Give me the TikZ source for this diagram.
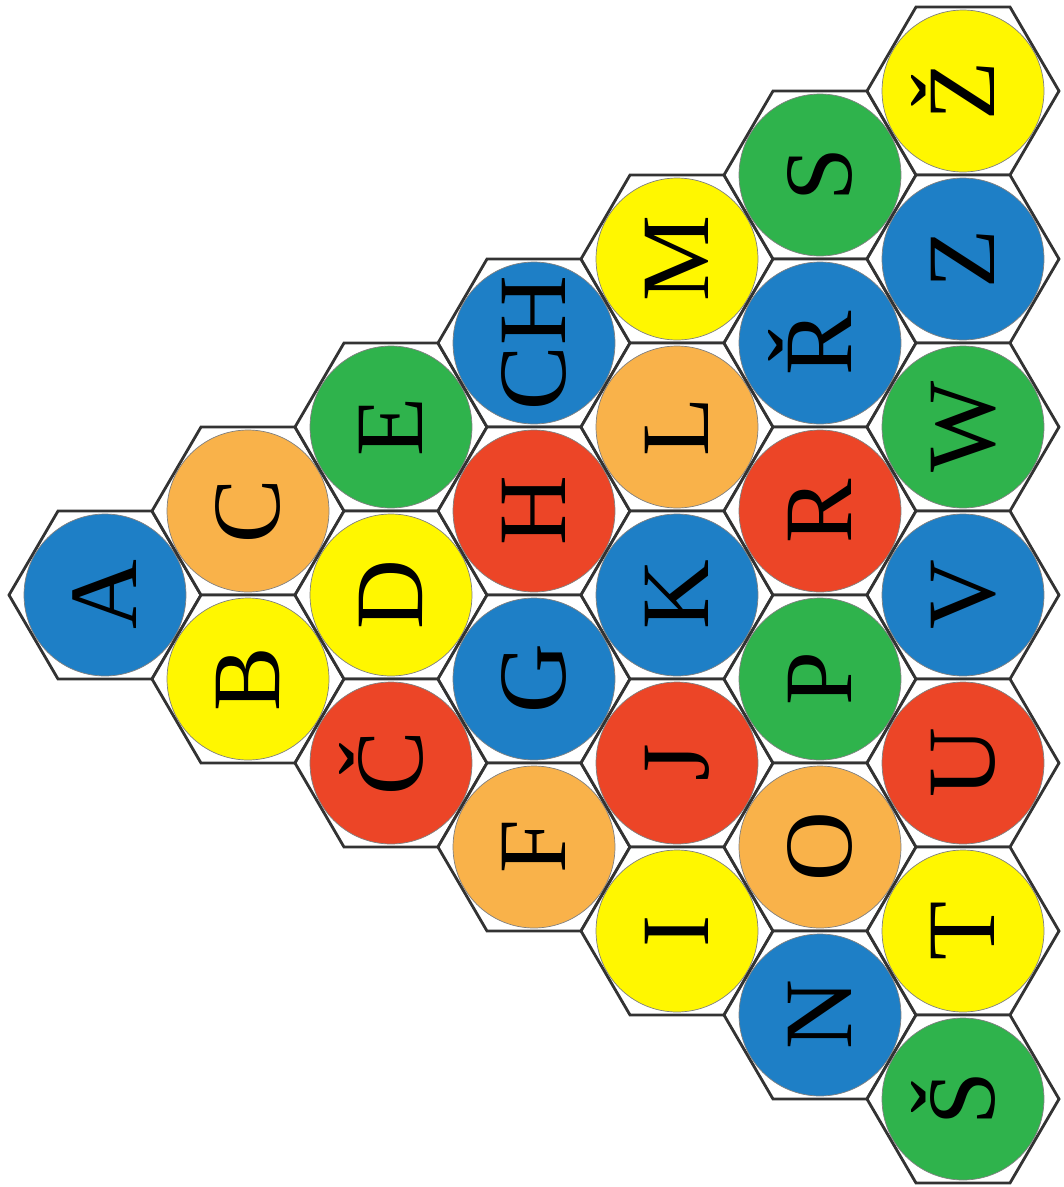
\documentclass[tikz,border=0pt]{standalone}
\usepackage{fontspec}
\setmainfont{Liberation Serif}
\usetikzlibrary{calc}
\definecolor{azBlue}{HTML}{1E7FC6}
\definecolor{azYellow}{HTML}{FFF700}
\definecolor{azOrange}{HTML}{F9B24A}
\definecolor{azRed}{HTML}{EC4527}
\definecolor{azGreen}{HTML}{2FB34C}
\newcommand{\azletter}{\fontsize{55}{55}\selectfont}
\tikzset{
  hexcell/.style = {draw=black!80, line width=1.6pt, line join=miter, fill=white},
  disc/.style    = {circle, minimum size=3.24cm, inner sep=0pt,
                    draw=black!50, line width=0.4pt, rotate=90,
                    font=\azletter, text height=36pt, text depth=0pt}
}

\begin{document}
\begin{tikzpicture}[x=0.02cm, y=-0.02cm]
\useasboundingbox (0,0) rectangle (1064,1187);
% column / position in column / name / letter / colour
\foreach \col/\pos/\nm/\txt/\clr in {
    0/0/a/A/azBlue,
    1/0/c/C/azOrange, 1/1/b/B/azYellow,
    2/0/e/E/azGreen, 2/1/d/D/azYellow, 2/2/cc/Č/azRed,
    3/0/ch/CH/azBlue, 3/1/h/H/azRed, 3/2/g/G/azBlue, 3/3/f/F/azOrange,
    4/0/m/M/azYellow, 4/1/l/L/azOrange, 4/2/k/K/azBlue, 4/3/j/J/azRed, 4/4/i/I/azYellow,
    5/0/s/S/azGreen, 5/1/rr/Ř/azBlue, 5/2/r/R/azRed, 5/3/p/P/azGreen, 5/4/o/O/azOrange, 5/5/n/N/azBlue,
    6/0/zz/Ž/azYellow, 6/1/z/Z/azBlue, 6/2/w/W/azGreen, 6/3/v/V/azBlue, 6/4/u/U/azRed, 6/5/t/T/azYellow, 6/6/ss/Š/azGreen} {
  \pgfmathsetmacro{\cx}{105+143*\col}
  \pgfmathsetmacro{\cy}{595+168*(\pos-\col/2)}
  \draw[hexcell] (\cx-96,\cy) -- ++(49,-84) -- ++(94,0) -- ++(49,84)
                 -- ++(-49,84) -- ++(-94,0) -- cycle;
  \node[disc, fill=\clr] (\nm) at (\cx,\cy) {\txt};
}
\end{tikzpicture}
\end{document}
